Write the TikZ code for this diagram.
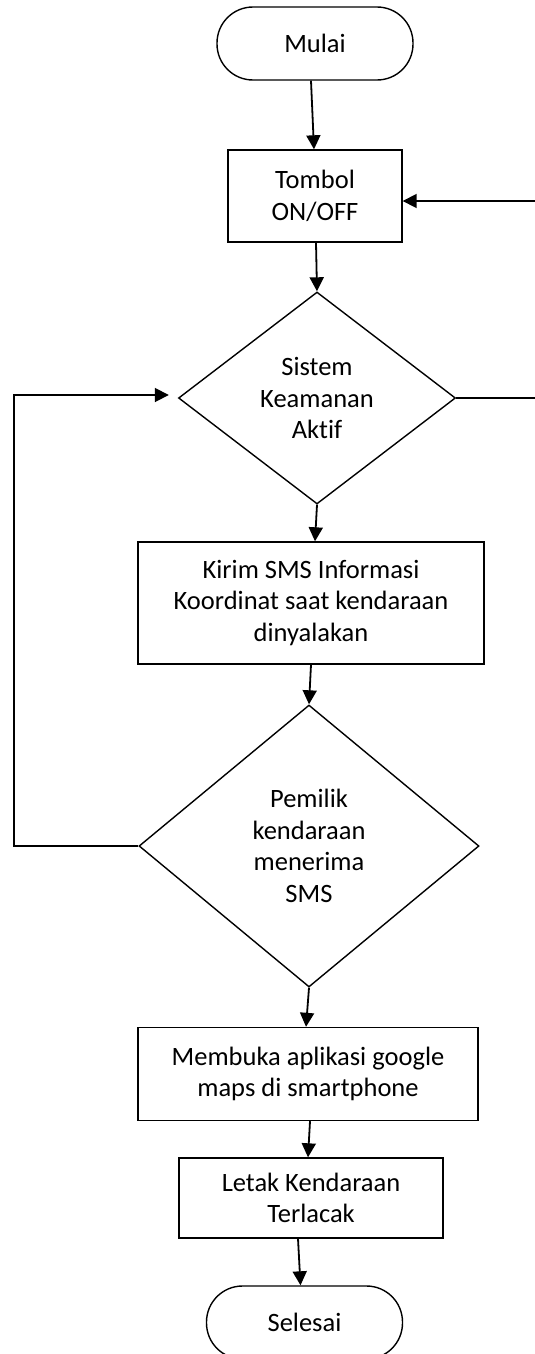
\documentclass[tikz,border=0pt]{standalone}
\usepackage{fontspec}
\setmainfont{Carlito}[Ligatures=NoCommon]
\usetikzlibrary{shapes.geometric,arrows.meta}

\tikzset{
  base/.style={draw=black, line width=1.4pt, align=center, inner sep=0pt,
    font=\fontsize{26.5pt}{31.5pt}\selectfont, text=black},
  terminal/.style={base, rectangle, rounded corners=36pt, minimum width=196pt, minimum height=73pt},
  process/.style={base, rectangle},
  decision/.style={base, diamond},
  flow/.style={draw=black, line width=1.8pt, -{Triangle[length=14pt,width=14pt]}},
}

\begin{document}
\begin{tikzpicture}[x=1pt,y=1pt]
\useasboundingbox (0,0) rectangle (535,-1354);

% nodes of the flow chart
\node[terminal] (mulai) at (315,-43.5) {Mulai};
\node[process, minimum width=174pt, minimum height=92pt] (tombol) at (315,-196) {Tombol\\ON/OFF};
\node[decision, minimum width=277pt, minimum height=212pt] (aktif) at (317,-398) {Sistem\\Keamanan\\Aktif};
\node[process, minimum width=346pt, minimum height=122pt] (kirim) at (311,-603)
  {Kirim SMS Informasi\\Koordinat saat kendaraan\\dinyalakan};
\node[decision, minimum width=340pt, minimum height=282pt] (terima) at (309,-846)
  {Pemilik\\kendaraan\\menerima\\SMS};
\node[process, minimum width=340pt, minimum height=93pt] (maps) at (308,-1074)
  {Membuka aplikasi google\\maps di smartphone};
\node[process, minimum width=264pt, minimum height=80pt] (lacak) at (311,-1198)
  {Letak Kendaraan\\Terlacak};
\node[terminal] (selesai) at (304.5,-1322.5) {Selesai};

% main sequence
\draw[flow] ([xshift=-4pt]mulai.south) -- ([xshift=-1pt]tombol.north);
\draw[flow] ([xshift=1pt]tombol.south) -- (aktif.north);
\draw[flow] (aktif.south) -- ([xshift=4pt]kirim.north);
\draw[flow] (kirim.south) -- (terima.north);
\draw[flow] (terima.south) -- ([xshift=-2pt]maps.north);
\draw[flow] ([xshift=2pt]maps.south) -- ([xshift=-3pt]lacak.north);
\draw[flow] ([xshift=-13pt]lacak.south) -- ([xshift=-4pt]selesai.north);

% loop back when the SMS is not received
\draw[flow] (terima.west) -- (14,-846) |- ([xshift=-9pt,yshift=3pt]aktif.west);

% return to the switch when the system is off
\draw[flow] (aktif.east) -- (545,-398) |- ([yshift=-5pt]tombol.east);
\end{tikzpicture}
\end{document}
